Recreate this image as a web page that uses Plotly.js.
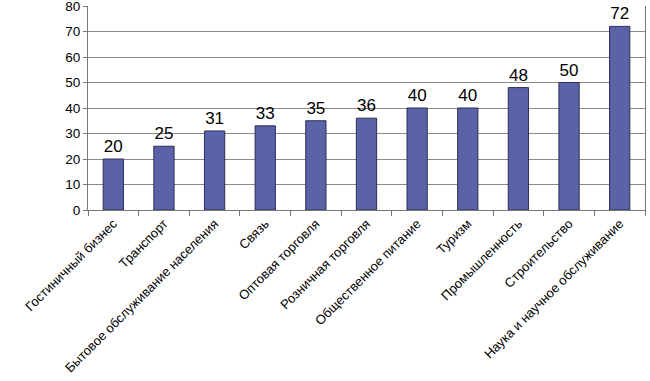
<!DOCTYPE html>
<html><head><meta charset="utf-8">
<script src="https://cdn.plot.ly/plotly-3.0.1.min.js"></script>
<style>body{margin:0;padding:0;background:#fff}</style>
</head><body>
<div id="chart" style="width:650px;height:381px"></div>
<script>
const categories = ["Гостиничный бизнес","Транспорт","Бытовое обслуживание населения","Связь","Оптовая торговля","Розничная торговля","Общественное питание","Туризм","Промышленность","Строительство","Наука и научное обслуживание"];
const values = [20,25,31,33,35,36,40,40,48,50,72];
const yTicks = [0,10,20,30,40,50,60,70,80];

Plotly.newPlot('chart', [{
  type:'bar', x:categories, y:values,
  marker:{color:'#5B63A8', line:{color:'#2B2D55', width:1}},
  text: values.map(String), textposition:'outside', cliponaxis:false,
  textfont:{family:'Liberation Sans, Arial, sans-serif', size:17, color:'#000'},
  hoverinfo:'none'
}], {
  width:650, height:381,
  margin:{l:88, r:5, t:6, b:171},
  paper_bgcolor:'#fff', plot_bgcolor:'#fff',
  bargap:0.6, showlegend:false,
  font:{family:'Liberation Sans, Arial, sans-serif', color:'#000'},
  xaxis:{type:'category', tickangle:-45, tickson:'boundaries', ticks:'outside', ticklen:5, tickcolor:'#777',
    showgrid:false, showline:true, linecolor:'#777', linewidth:1,
    tickfont:{size:13, color:'#000'}, automargin:false},
  yaxis:{range:[0,80], tickvals:yTicks, ticks:'outside', ticklen:4, tickcolor:'#777',
    showgrid:true, gridcolor:'#8a8a8a', gridwidth:1, showline:true, linecolor:'#777', mirror:true,
    zeroline:false, tickfont:{size:13.5, color:'#000'}, automargin:false, ticklabeloverflow:'allow'}
}, {staticPlot:true});
</script>
</body></html>
